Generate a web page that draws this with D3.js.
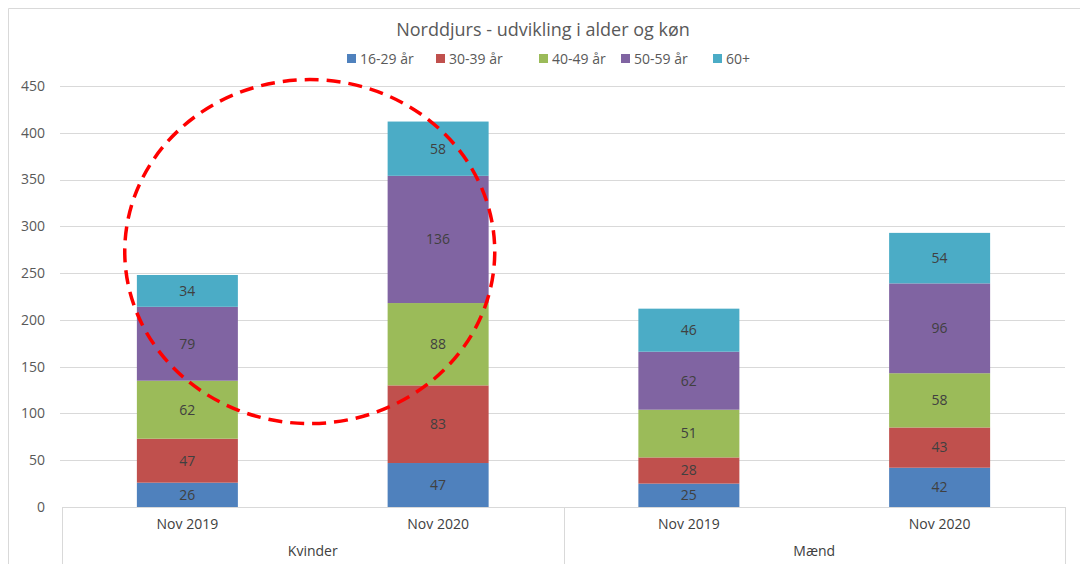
<!DOCTYPE html>
<html>
<head>
<meta charset="utf-8">
<script src="https://cdn.jsdelivr.net/npm/d3@7"></script>
<style>
  body { margin: 0; background: #fff; }
  svg text { font-family: "Open Sans", "Liberation Sans", sans-serif; }
</style>
</head>
<body>
<div id="chart"></div>
<script>
// data
var groups = ['Kvinder', 'Mænd'];
var periods = ['Nov 2019', 'Nov 2020'];
var ageGroups = ['16-29 år', '30-39 år', '40-49 år', '50-59 år', '60+'];
var colors = ['#4f81bd', '#c0504d', '#9bbb59', '#8064a2', '#4bacc6'];
var kvinder2019 = [26, 47, 62, 79, 34];
var kvinder2020 = [47, 83, 88, 136, 58];
var maend2019 = [25, 28, 51, 62, 46];
var maend2020 = [42, 43, 58, 96, 54];
var yTicks = [0, 50, 100, 150, 200, 250, 300, 350, 400, 450];

var rows = [
  {group: groups[0], period: periods[0], vals: kvinder2019},
  {group: groups[0], period: periods[1], vals: kvinder2020},
  {group: groups[1], period: periods[0], vals: maend2019},
  {group: groups[1], period: periods[1], vals: maend2020}
];
rows.forEach(function(r, i) { r.key = i; });

var width = 1080, height = 564;
var plotLeft = 62, plotRight = 1065, plotTop = 86, plotBottom = 507;

var svg = d3.select('#chart').append('svg')
    .attr('width', width)
    .attr('height', height);

// chart frame
svg.append('path')
    .attr('d', 'M8.5,' + height + 'V8.5H' + width)
    .attr('fill', 'none')
    .attr('stroke', '#d9d9d9');

var x = d3.scaleBand().domain(rows.map(function(r) { return r.key; }))
    .range([plotLeft, plotRight]).paddingInner(0).paddingOuter(0);
var y = d3.scaleLinear().domain([0, 450]).range([plotBottom, plotTop]);

// gridlines
svg.append('g').selectAll('line')
    .data(yTicks.slice(1))
    .enter().append('line')
    .attr('x1', plotLeft - 2).attr('x2', plotRight)
    .attr('y1', function(d) { return Math.round(y(d)) + 0.5; })
    .attr('y2', function(d) { return Math.round(y(d)) + 0.5; })
    .attr('stroke', '#d9d9d9');

// y labels
svg.append('g').selectAll('text')
    .data(yTicks)
    .enter().append('text')
    .attr('x', 45)
    .attr('y', function(d) { return y(d); })
    .attr('dy', '0.35em')
    .attr('text-anchor', 'end')
    .attr('font-size', 14)
    .attr('fill', '#595959')
    .text(function(d) { return d; });

// stacked bars
var barW = 101;
rows.forEach(function(r) {
  var cx = x(r.key) + x.bandwidth() / 2;
  var acc = 0;
  var segs = r.vals.map(function(v, i) {
    var s = {v: v, i: i, y0: acc, y1: acc + v};
    acc += v;
    return s;
  });
  var g = svg.append('g');
  g.selectAll('rect').data(segs).enter().append('rect')
      .attr('x', cx - barW / 2)
      .attr('width', barW)
      .attr('y', function(d) { return y(d.y1); })
      .attr('height', function(d) { return y(d.y0) - y(d.y1); })
      .attr('fill', function(d) { return colors[d.i]; });
  g.selectAll('text').data(segs).enter().append('text')
      .attr('x', cx)
      .attr('y', function(d) { return (y(d.y0) + y(d.y1)) / 2; })
      .attr('dy', '0.35em')
      .attr('text-anchor', 'middle')
      .attr('font-size', 14)
      .attr('fill', '#404040')
      .text(function(d) { return d.v; });
});

// category axis boxes
var axisG = svg.append('g').attr('stroke', '#d9d9d9').attr('fill', 'none');
axisG.append('line')
    .attr('x1', plotLeft).attr('x2', plotRight)
    .attr('y1', plotBottom + 0.5).attr('y2', plotBottom + 0.5);
[plotLeft, x(2), plotRight].forEach(function(px) {
  axisG.append('line')
      .attr('x1', Math.round(px) + 0.5).attr('x2', Math.round(px) + 0.5)
      .attr('y1', plotBottom).attr('y2', height);
});

svg.append('g').selectAll('text')
    .data(rows)
    .enter().append('text')
    .attr('x', function(d) { return x(d.key) + x.bandwidth() / 2; })
    .attr('y', 529)
    .attr('text-anchor', 'middle')
    .attr('font-size', 14)
    .attr('fill', '#404040')
    .text(function(d) { return d.period; });

svg.append('g').selectAll('text')
    .data(groups)
    .enter().append('text')
    .attr('x', function(d, i) { return x(i * 2) + x.bandwidth(); })
    .attr('y', 556)
    .attr('text-anchor', 'middle')
    .attr('font-size', 14)
    .attr('fill', '#404040')
    .text(function(d) { return d; });

// title
svg.append('text')
    .attr('x', 543).attr('y', 36)
    .attr('text-anchor', 'middle')
    .attr('font-size', 18)
    .attr('fill', '#595959')
    .text('Norddjurs - udvikling i alder og køn');

// legend
var legendX = [347, 436, 539, 621, 713];
var leg = svg.append('g').selectAll('g')
    .data(ageGroups)
    .enter().append('g')
    .attr('transform', function(d, i) { return 'translate(' + legendX[i] + ',59)'; });
leg.append('rect')
    .attr('x', 0).attr('y', -5)
    .attr('width', 9).attr('height', 9)
    .attr('fill', function(d, i) { return colors[i]; });
leg.append('text')
    .attr('x', 13).attr('dy', '0.35em')
    .attr('font-size', 14)
    .attr('fill', '#595959')
    .text(function(d) { return d; });

// dashed annotation circle around Kvinder
svg.append('ellipse')
    .attr('cx', x(1) - 3)
    .attr('cy', y(273))
    .attr('rx', 185)
    .attr('ry', 172)
    .attr('fill', 'none')
    .attr('stroke', '#ff0000')
    .attr('stroke-width', 3.5)
    .attr('stroke-dasharray', '14,8');
</script>
</body>
</html>
